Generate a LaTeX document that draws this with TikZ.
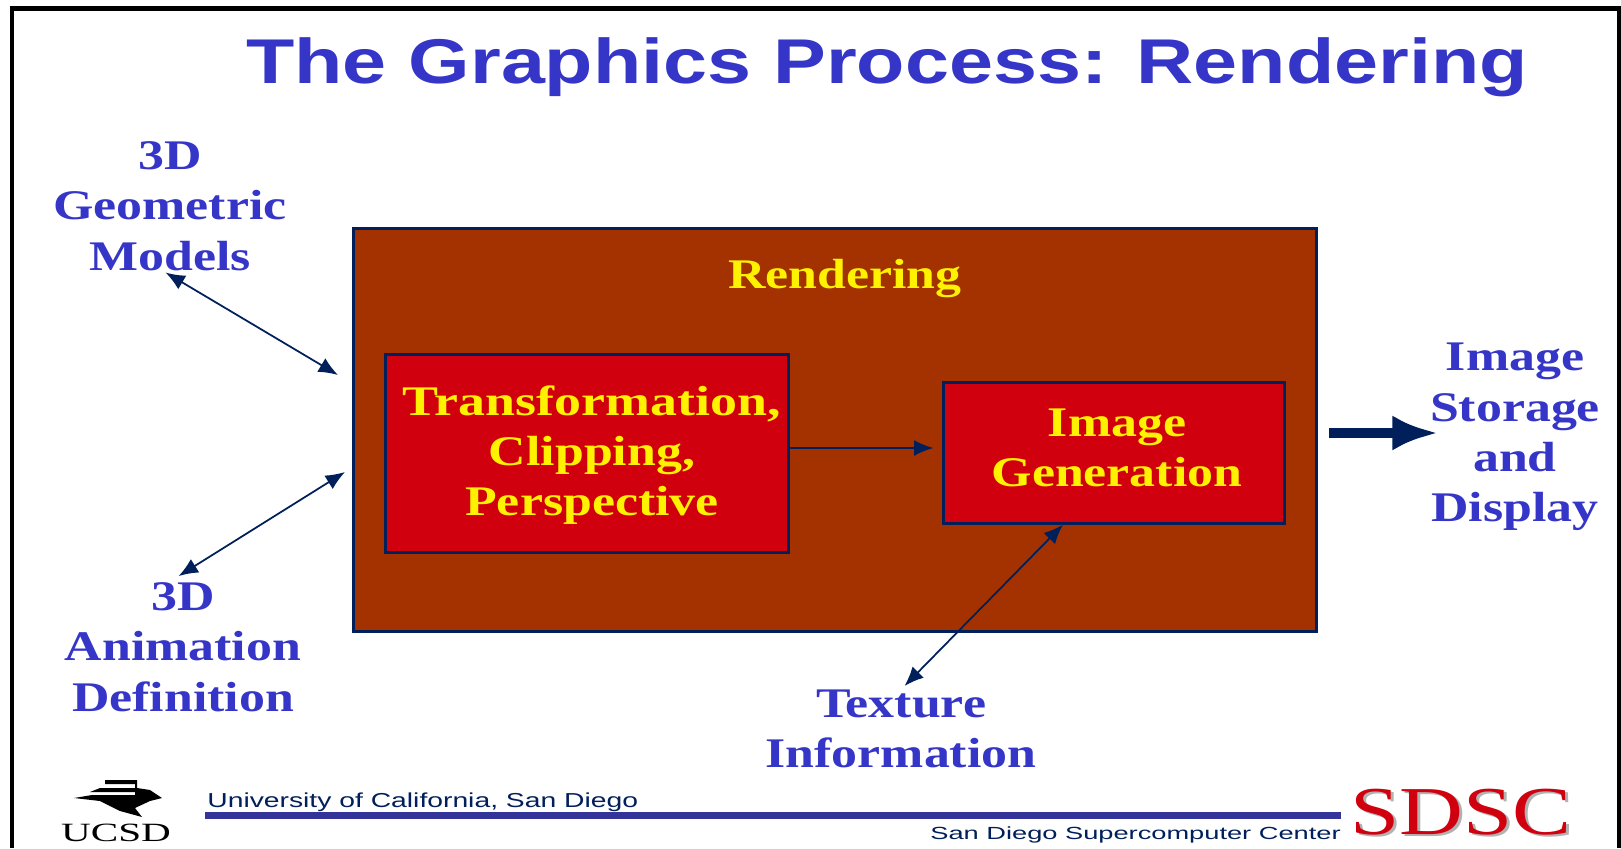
\documentclass[tikz,border=0pt]{standalone}
\usepackage{fontspec}
\usepackage{graphicx}
\usepackage{xcolor}
\usetikzlibrary{arrows.meta}
\setmainfont{Liberation Serif}
\setsansfont{Liberation Sans}
\newfontfamily\titlefont[FakeStretch=1.25]{Liberation Sans}
\newfontfamily\labelfont[FakeStretch=1.23]{Liberation Serif}
\newfontfamily\sdscfont[FakeStretch=1.29]{Liberation Serif}
\newfontfamily\footfont[FakeStretch=1.4]{Liberation Sans}
\newfontfamily\smallfootfont[FakeStretch=1.55]{Liberation Sans}
\definecolor{titleblue}{HTML}{3535C8}
\definecolor{navy}{HTML}{001F5B}
\definecolor{rustbrown}{HTML}{A33200}
\definecolor{boxred}{HTML}{D0000F}
\definecolor{rulecolor}{HTML}{333399}
\tikzset{
  label/.style={inner sep=0pt, align=center, text=titleblue, font=\labelfont\bfseries\fontsize{24}{28.6}\selectfont},
  inlabel/.style={label, text=yellow},
  box/.style={draw=navy, line width=1.6pt, inner sep=0pt},
  link/.style={navy, line width=1pt, >={Latex[length=11pt,width=9pt]}},
}
\begin{document}
\begin{tikzpicture}[x=0.02cm, y=-0.02cm]
    \useasboundingbox[fill=white] (0,0) rectangle (1621,848);
    \draw[black, line width=2.3pt] (12,848) -- (12,8.5) -- (1619,8.5) -- (1619,848);
    \node[inner sep=0pt, text=titleblue, font=\titlefont\bfseries\fontsize{36}{36}\selectfont] (title) at (887,67) {The Graphics Process: Rendering};

    \node[box, fill=rustbrown, minimum width=548pt, minimum height=229pt] (render) at (835,430) {};
    \node[box, fill=boxred, minimum width=229pt, minimum height=113pt] (transform) at (587,453.5) {};
    \node[box, fill=boxred, minimum width=194pt, minimum height=80pt] (imagegen) at (1114,453) {};
    \node[inlabel] (rendertext) at (845,279) {Rendering};
    \node[inlabel] (transformtext) at (592,455) {\scalebox{1.04}[1]{Transformation,}\\Clipping,\\Perspective};
    \node[inlabel] (imagegentext) at (1117,448) {Image\\Generation};

    \node[label] (models) at (170,206) {3D\\Geometric\\Models};
    \node[label] (animation) at (183,647) {3D\\Animation\\Definition};
    \node[label] (texture) at (901,729) {Texture\\Information};
    \node[label] (storage) at (1515,437) {Image\\Storage\\and\\Display};

    \coordinate (modelsin) at (338,375);
    \coordinate (animationin) at (345,472);
    \coordinate (storagein) at (1329,433);
    \coordinate (storageout) at (1438,433);
    \draw[link, <->] ([xshift=-2.5pt,yshift=-1pt]models.south) -- (modelsin);
    \draw[link, <->] ([xshift=-2.5pt,yshift=3.5pt]animation.north) -- (animationin);
    \draw[link, ->, shorten >=5pt] (transform.east |- 0,448) -- (imagegen.west |- 0,448);
    \draw[link, <->] (imagegen.south) ++(-51,0) coordinate (imagegenin) -- ([xshift=2pt,yshift=2pt]texture.north);
    \draw[navy, line width=5.5pt, -{Latex[length=26pt,width=20pt]}] (storagein) -- (storageout);

    % logo and footer
    \fill[black] (105,780) -- (137,780) -- (137,788) -- (150,790) -- (162,798) -- (150,801) -- (135,808) -- (142,817) -- (120,811) -- (100,801) -- (74,798) -- (92,795) -- (135,795) -- (135,792) -- (90,792) -- (100,788) -- (135,788) -- (135,784) -- (105,784) -- cycle;
    \node[inner sep=0pt, font=\labelfont\fontsize{15}{15}\selectfont] (ucsd) at (116,833) {\scalebox{1.27}[1]{UCSD}};
    \node[inner sep=0pt, anchor=west, text=navy, font=\footfont\fontsize{11.5}{12}\selectfont] (ucsdtext) at (207,802) {University of California, San Diego};
    \fill[rulecolor] (205,812) rectangle (1341,819);
    \node[inner sep=0pt, anchor=east, text=navy, font=\smallfootfont\fontsize{10}{10}\selectfont] (sdsctext) at (1341,835) {San Diego Supercomputer Center};
    \node[inner sep=0pt, text=gray!60, font=\sdscfont\fontsize{39}{39}\selectfont] (sdscshadow) at (1464,814) {SDSC};
    \node[inner sep=0pt, text=boxred, font=\sdscfont\fontsize{39}{39}\selectfont] (sdsc) at (1461,812) {SDSC};
\end{tikzpicture}
\end{document}
